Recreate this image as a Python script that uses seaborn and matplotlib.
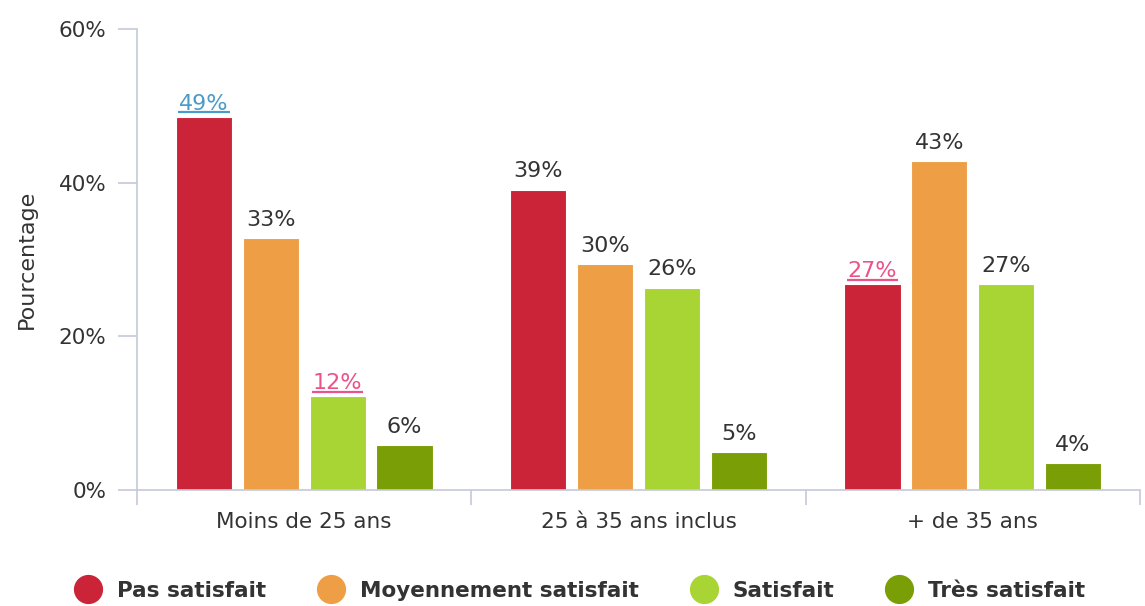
import matplotlib
matplotlib.use("Agg")
import matplotlib.pyplot as plt
import matplotlib.transforms as mtransforms
from matplotlib.lines import Line2D
from matplotlib.ticker import FixedLocator
import seaborn as sns
import pandas as pd

categories = ["Moins de 25 ans", "25 à 35 ans inclus", "+ de 35 ans"]
series = ["Pas satisfait", "Moyennement satisfait", "Satisfait", "Très satisfait"]
pas_satisfait = [48.6, 39.1, 26.8]
moyennement = [32.8, 29.4, 42.8]
satisfait = [12.2, 26.3, 26.8]
tres_satisfait = [5.8, 4.9, 3.5]
labels = [["49%", "39%", "27%"], ["33%", "30%", "43%"], ["12%", "26%", "27%"], ["6%", "5%", "4%"]]
# highlighted labels: (series index, category index) -> colour
highlights = {(0, 0): "#4a9bc7", (2, 0): "#e9538a", (0, 2): "#e9538a"}
yticks = [0, 20, 40, 60]
ytick_labels = ["0%", "20%", "40%", "60%"]
colors = ["#cb2337", "#ee9e45", "#a8d534", "#7a9e06"]

values = [pas_satisfait, moyennement, satisfait, tres_satisfait]
rows = []
for s, vals in zip(series, values):
    for c, v in zip(categories, vals):
        rows.append({"Tranche": c, "Satisfaction": s, "Pourcentage": v})
df = pd.DataFrame(rows)

sns.set_theme(style="white")
plt.rcParams["font.family"] = ["DejaVu Sans"]

txt_col = "#333333"
fig = plt.figure(figsize=(11.45, 6.06), dpi=100)
ax = fig.add_axes([0.1197, 0.1914, 0.8759, 0.7606])

sns.barplot(data=df, x="Tranche", y="Pourcentage", hue="Satisfaction",
            order=categories, hue_order=series, palette=colors,
            width=0.8, gap=0.16, edgecolor="white", linewidth=0.8,
            saturation=1, legend=False, ax=ax)

axis_col = "#c4cad8"
ax.set_ylim(0, 60)
ax.set_xlim(-0.5, 2.5)
ax.set_yticks(yticks)
ax.set_yticklabels(ytick_labels, fontsize=15.5, color=txt_col)
ax.tick_params(axis="y", left=True, length=14, width=1.2, color=axis_col, pad=8)
ax.tick_params(axis="x", which="major", bottom=True, length=0, pad=16, labelsize=15.5,
               labelcolor=txt_col)
ax.xaxis.set_minor_locator(FixedLocator([-0.5, 0.5, 1.5, 2.5]))
ax.tick_params(axis="x", which="minor", bottom=True, length=11, width=1.2, color=axis_col,
               direction="out")
ax.set_xlabel("")
ax.set_ylabel("Pourcentage", fontsize=16, color=txt_col, labelpad=16)
for side in ["top", "right"]:
    ax.spines[side].set_visible(False)
for side in ["left", "bottom"]:
    ax.spines[side].set_color(axis_col)
    ax.spines[side].set_linewidth(1.2)
ax.spines["bottom"].set_bounds(-0.5, 2.5)

for si, cont in enumerate(ax.containers):
    for ci, bar in enumerate(cont.patches):
        key = (si, ci)
        h = bar.get_height()
        xc = bar.get_x() + bar.get_width() / 2
        if key in highlights:
            col = highlights[key]
            ax.annotate(labels[si][ci], (xc, h), xytext=(0, 5), textcoords="offset points",
                        ha="center", va="baseline", fontsize=16, color=col)
            trans = mtransforms.offset_copy(ax.transData, fig=fig, x=0, y=3.2, units="points")
            x0 = bar.get_x() + bar.get_width() * 0.04
            x1 = bar.get_x() + bar.get_width() * 0.96
            ax.plot([x0, x1], [h, h], color=col, lw=1.6, transform=trans,
                    solid_capstyle="butt", clip_on=False)
        else:
            ax.annotate(labels[si][ci], (xc, h), xytext=(0, 9), textcoords="offset points",
                        ha="center", va="baseline", fontsize=16, color=txt_col)

handles = [Line2D([0], [0], marker="o", linestyle="", markersize=20,
                  markerfacecolor=c, markeredgecolor=c) for c in colors]
leg = fig.legend(handles, series, loc="center", bbox_to_anchor=(0.503, 0.025),
                 ncol=4, frameon=False, handletextpad=0.35, columnspacing=2.0,
                 prop={"family": ["DejaVu Sans"], "weight": "bold", "size": 15.5})
for t in leg.get_texts():
    t.set_color(txt_col)

fig.savefig("out.png", dpi=100)
